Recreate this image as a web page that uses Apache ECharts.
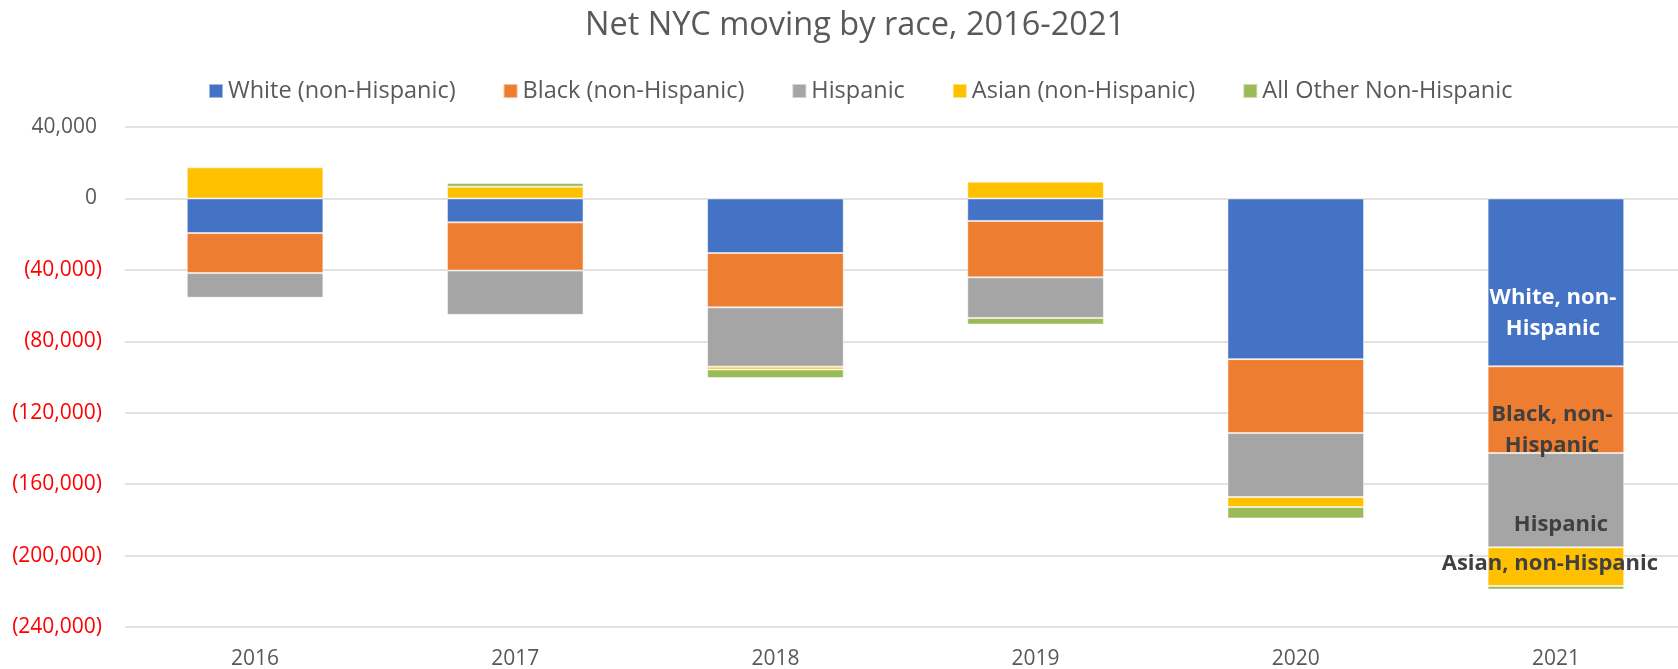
<!DOCTYPE html>
<html>
    <head>
        <meta charset="UTF-8">
        <title>Net NYC moving by race</title>
        <script src="https://cdn.jsdelivr.net/npm/echarts/dist/echarts.min.js"></script>
        <style>
            body,html{margin:0;padding:0;background:#fff;}
            #netMoving{width:1678px;height:669px;}
        </style>
    </head>
    <body>
        <div id="netMoving"></div>
        <script type="text/javascript">
          // 数据
          var years = ['2016','2017','2018','2019','2020','2021'];
          var seriesNames = ['White (non-Hispanic)','Black (non-Hispanic)','Hispanic','Asian (non-Hispanic)','All Other Non-Hispanic'];
          var white    = [-19400, -13400, -30600, -12600, -90000, -94000];
          var black    = [-22400, -27000, -30400, -31600, -41400, -48600];
          var hispanic = [-13800, -24800, -33200, -22800, -35800, -52800];
          var asian    = [17400, 6600, -1600, 9400, -5600, -21600];
          var other    = [-400, 2000, -4800, -3600, -6400, -2000];
          // 2021 柱子上的文字
          var lastLabels = ['White, non-\nHispanic','Black, non-\nHispanic','Hispanic','Asian, non-Hispanic',''];

          var colors = ['#4472C4','#ED7D31','#A5A5A5','#FFC000','#9BBB59'];
          var labelColors = ['#FFFFFF','#404040','#404040','#404040','#404040'];
          var labelOffsets = [[-3,31],[-4,21],[5,25],[-6,-3],[0,0]];
          var allData = [white, black, hispanic, asian, other];

          function fmtNum(v){
              return String(v).replace(/\B(?=(\d{3})+(?!\d))/g, ',');
          }

          var series = [];
          for (var i = 0; i < seriesNames.length; i++) {
              var d = allData[i].map(function(v, j){
                  if (j === years.length - 1 && lastLabels[i]) {
                      return {
                          value: v,
                          label: {
                              show: true,
                              position: 'inside',
                              offset: labelOffsets[i],
                              formatter: lastLabels[i],
                              color: labelColors[i],
                              fontSize: 22,
                              fontWeight: 'bold',
                              lineHeight: 31,
                              fontFamily: 'Open Sans'
                          }
                      };
                  }
                  return v;
              });
              series.push({
                  name: seriesNames[i],
                  type: 'bar',
                  stack: 'total',
                  barWidth: '52.5%',
                  itemStyle: {borderColor: 'rgba(255,255,255,0.5)', borderWidth: 1},
                  data: d
              });
          }

          var chart = echarts.init(document.getElementById('netMoving'));
          var option = {
              color: colors,
              animation: false,
              textStyle: {fontFamily: 'Open Sans'},
              title: {
                  text: 'Net NYC moving by race, 2016-2021',
                  left: 855,
                  top: 6,
                  padding: 0,
                  textAlign: 'center',
                  textStyle: {fontSize: 32.5, fontWeight: 'normal', color: '#595959', lineHeight: 40}
              },
              legend: {
                  data: seriesNames,
                  left: 208,
                  top: 79,
                  padding: 0,
                  itemWidth: 14,
                  itemHeight: 14,
                  itemGap: 47,
                  icon: 'rect',
                  textStyle: {fontSize: 23.5, color: '#595959'}
              },
              grid: {left: 125, width: 1561, top: 127, bottom: 42, outerBoundsMode: 'none', containLabel: false},
              xAxis: {
                  type: 'category',
                  data: years,
                  axisLine: {show: false},
                  axisTick: {show: false},
                  axisLabel: {fontSize: 21, color: '#595959', margin: 22}
              },
              yAxis: {
                  type: 'value',
                  min: -240000,
                  max: 40000,
                  interval: 40000,
                  axisLine: {show: false},
                  axisTick: {show: false},
                  splitLine: {lineStyle: {color: '#D9D9D9', width: 1.5}},
                  axisLabel: {
                      margin: 23,
                      formatter: function(v){
                          if (v < 0) return '{neg|(' + fmtNum(-v) + ')}';
                          return '{pos|' + fmtNum(v) + '}';
                      },
                      rich: {
                          neg: {fontSize: 21, color: '#FF0000'},
                          pos: {fontSize: 21, color: '#595959', padding: [0, 5, 0, 0]}
                      }
                  }
              },
              series: series
          };
          chart.setOption(option);
        </script>
    </body>
</html>
